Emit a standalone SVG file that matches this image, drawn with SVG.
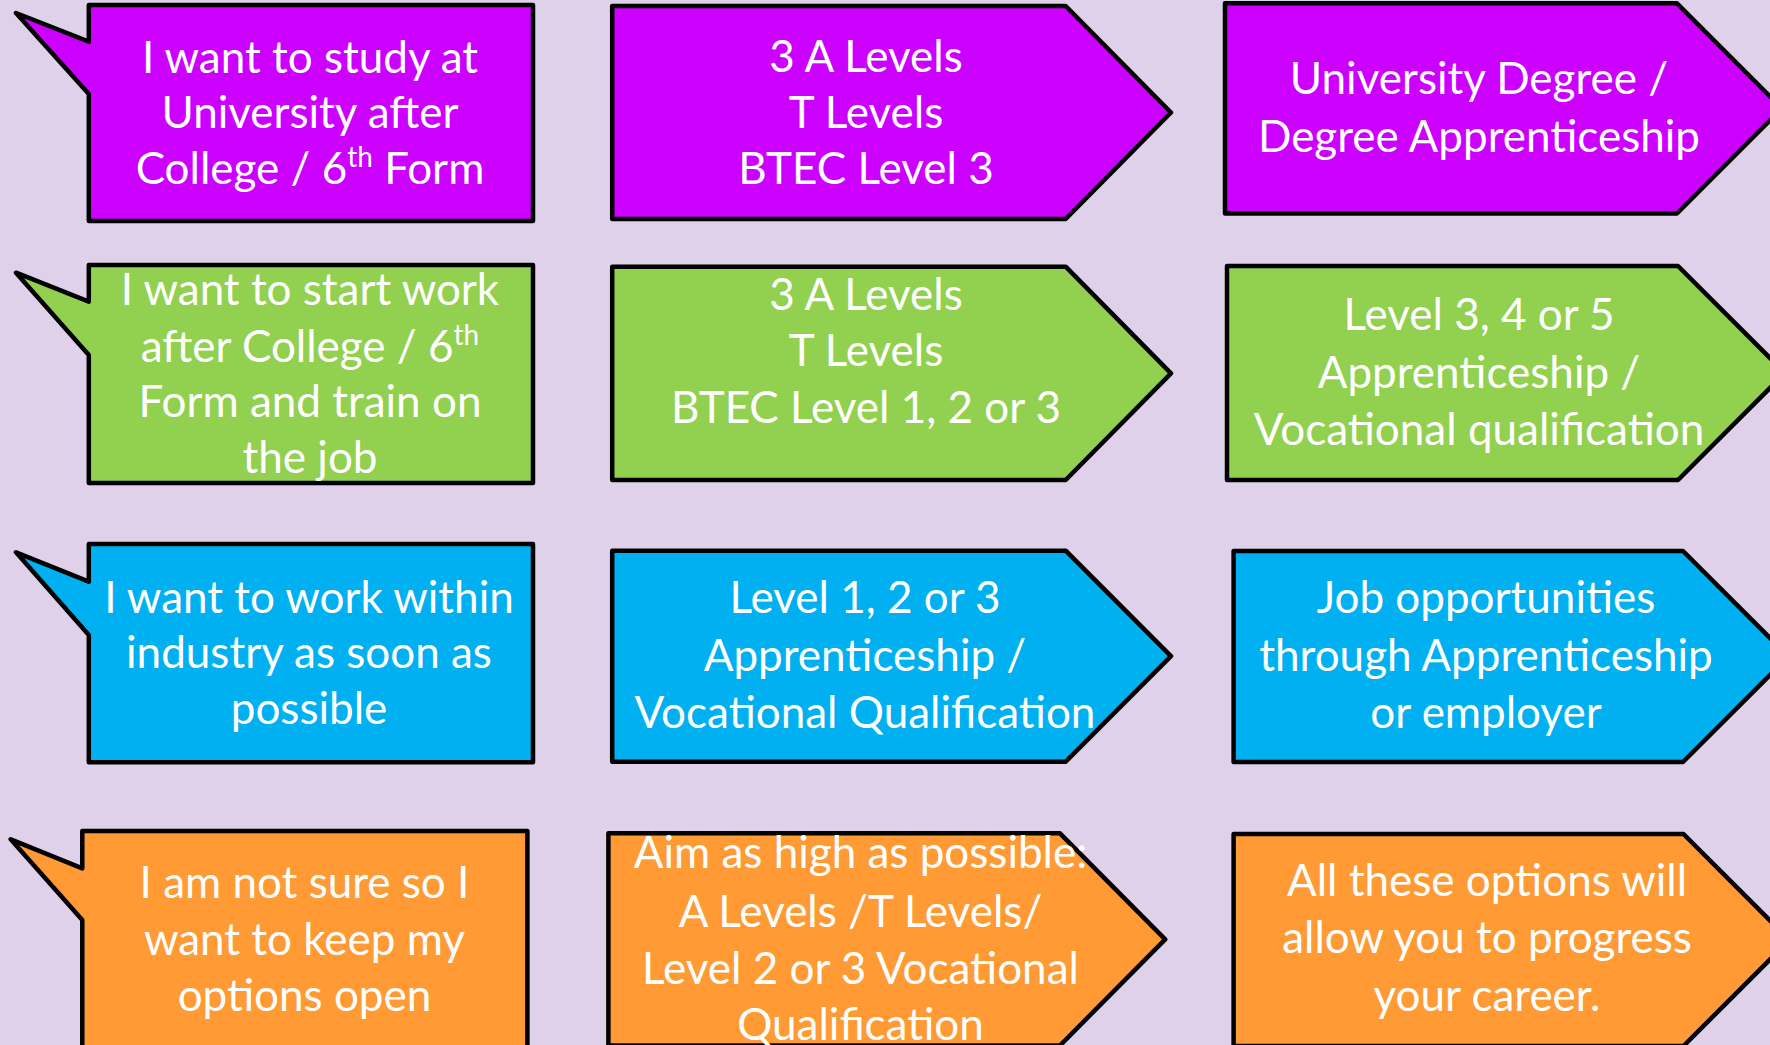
<svg xmlns="http://www.w3.org/2000/svg" width="1770" height="1045" viewBox="0 0 1770 1045">
<style>
.shape{stroke:#000;stroke-width:4.5;stroke-linejoin:round}
.purple{fill:#CC00FF}
.green{fill:#92D050}
.blue{fill:#00B0F0}
.orange{fill:#FF9A35}
text{font-family:Lato,"Liberation Sans",sans-serif;font-size:44px;fill:#fff;text-anchor:middle}
.sup{font-size:28px}
</style>
<rect width="1770" height="1045" fill="#DED1E9"/>
<g id="connectors"/>
<g id="callout-university">
<path class="shape purple" d="M88.8,5 H533 V221 H88.8 V94 L16,13 L88.8,41.7 Z"/>
<text x="310" y="72.7">I want to study at</text>
<text x="310" y="128">University after</text>
<text x="310" y="184">College / 6<tspan class="sup" dy="-17">th</tspan><tspan dy="17"> Form</tspan></text>
</g>
<g id="callout-work">
<path class="shape green" d="M88.8,265 H533 V483 H88.8 V355 L16,272.7 L88.8,301.7 Z"/>
<text x="310" y="305">I want to start work</text>
<text x="310" y="361.7">after College / 6<tspan class="sup" dy="-17">th</tspan></text>
<text x="310" y="417">Form and train on</text>
<text x="310" y="473">the job</text>
</g>
<g id="callout-industry">
<path class="shape blue" d="M88.8,544 H533 V762.3 H88.8 V635 L16,552.3 L88.8,581.7 Z"/>
<text x="309" y="613.3">I want to work within</text>
<text x="309" y="668.3">industry as soon as</text>
<text x="309" y="724">possible</text>
</g>
<g id="callout-unsure">
<path class="shape orange" d="M82.3,831 H527.4 V1060 H82.3 V920 L10.7,839.3 L82.3,868.3 Z"/>
<text x="304.5" y="898.3">I am not sure so I</text>
<text x="304.5" y="955">want to keep my</text>
<text x="304.5" y="1011">options open</text>
</g>
<g id="qual-university">
<path class="shape purple" d="M612.2,6 H1065.7 L1171,112.5 L1065.7,219 H612.2 Z"/>
<text x="866" y="71.7">3 A Levels</text>
<text x="866" y="127.7">T Levels</text>
<text x="866" y="184">BTEC Level 3</text>
</g>
<g id="qual-work">
<path class="shape green" d="M612.2,266.7 H1065.7 L1171,373.3 L1065.7,480 H612.2 Z"/>
<text x="866" y="310">3 A Levels</text>
<text x="866" y="365.7">T Levels</text>
<text x="866" y="423.3">BTEC Level 1, 2 or 3</text>
</g>
<g id="qual-industry">
<path class="shape blue" d="M612.2,550.7 H1065.7 L1171,656.2 L1065.7,761.7 H612.2 Z"/>
<text x="865" y="613.3">Level 1, 2 or 3</text>
<text x="865" y="670.7">Apprenticeship /</text>
<text x="865" y="728.3">Vocational Qualification</text>
</g>
<g id="qual-unsure">
<path class="shape orange" d="M608.4,833.3 H1060 L1165.2,939.4 L1060,1045.5 H608.4 Z"/>
<text x="860.5" y="868.3">Aim as high as possible:</text>
<text x="860.5" y="926.7">A Levels /T Levels/</text>
<text x="860.5" y="984">Level 2 or 3 Vocational</text>
<text x="860.5" y="1040">Qualification</text>
</g>
<g id="outcome-university">
<path class="shape purple" d="M1225,3.3 H1677 L1782,108.4 L1677,213.5 H1225 Z"/>
<text x="1479" y="94">University Degree /</text>
<text x="1479" y="151.7">Degree Apprenticeship</text>
</g>
<g id="outcome-work">
<path class="shape green" d="M1227,266 H1678 L1785,373 L1678,480 H1227 Z"/>
<text x="1479" y="330">Level 3, 4 or 5</text>
<text x="1479" y="387.7">Apprenticeship /</text>
<text x="1479" y="445">Vocational qualification</text>
</g>
<g id="outcome-industry">
<path class="shape blue" d="M1233.6,551 H1683 L1788.5,656.5 L1683,762 H1233.6 Z"/>
<text x="1486" y="613.3">Job opportunities</text>
<text x="1486" y="670.7">through Apprenticeship</text>
<text x="1486" y="728.3">or employer</text>
</g>
<g id="outcome-unsure">
<path class="shape orange" d="M1233.6,834 H1683.5 L1789.5,940 L1683.5,1046 H1233.6 Z"/>
<text x="1487" y="896">All these options will</text>
<text x="1487" y="953.3">allow you to progress</text>
<text x="1487" y="1010.7">your career.</text>
</g>
</svg>
